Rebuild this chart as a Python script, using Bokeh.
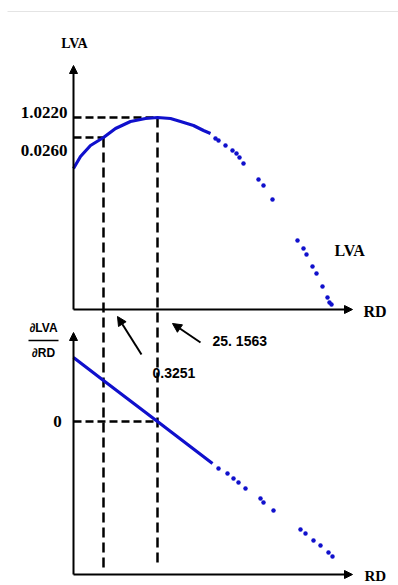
from bokeh.plotting import figure
from bokeh.models import Range1d, Arrow, NormalHead
from bokeh.core.properties import value
from bokeh.embed import file_html
from bokeh.resources import INLINE

# Top panel: LVA against RD
lva_line_rd = [0, 7, 17, 30, 42, 57, 72, 84, 97, 107, 120, 130, 137]
lva_line_val = [141, 153, 164, 172, 181, 188, 191, 192, 191, 188, 184, 179, 176]
lva_dots_rd = [142, 145, 152, 159, 163, 166, 170, 185, 190, 199, 224, 230, 233, 239, 243, 249, 254, 256, 258]
lva_dots_val = [171, 169, 164, 159, 156, 152, 146, 130, 124, 110, 69, 61, 55, 43, 36, 23, 12, 7, 5]

# Bottom panel: dLVA/dRD against RD
d_line_rd = [0, 30, 84, 139]
d_line_val = [64, 41, 0, -42]
d_dots_rd = [145, 154, 160, 165, 172, 187, 190, 200, 227, 232, 240, 247, 255, 259]
d_dots_val = [-47, -52, -57, -61, -67, -77, -81, -89, -108, -112, -119, -124, -131, -135]

# marked points
rd_marks = [30, 84]            # RD of the two vertical guides
lva_marks = [172, 192]         # LVA levels "0.0260" and "1.0220"
lva_mark_labels = ["0.0260", "1.0220"]
rd_mark_labels = ["0.3251", "25. 1563"]

# axis extents
top_axis_len_y = 244
axis_len_x = 279
bot_axis_top = 89
bot_axis_base = -153
guide_bottom = -258

# ---------------- layout ----------------
W, H = 398, 585
ORIGIN_FX, TOP_ORIGIN_FY, BOT_ZERO_FY = 73, 309, 421

p = figure(width=W, height=H, output_backend="svg", toolbar_location=None,
           x_range=Range1d(-ORIGIN_FX, W - ORIGIN_FX),
           y_range=Range1d(TOP_ORIGIN_FY - H, TOP_ORIGIN_FY),
           x_axis_type=None, y_axis_type=None, min_border=0)
p.extra_y_ranges = {"d": Range1d(BOT_ZERO_FY - H, BOT_ZERO_FY)}
p.outline_line_color = None
p.background_fill_color = "white"

BLUE = "#1010cc"
serif = value("Liberation Serif")
sans = value("Liberation Sans")

# faint page border line at top
p.line([-66, W - ORIGIN_FX], [TOP_ORIGIN_FY - 11, TOP_ORIGIN_FY - 11], line_color="#e4e4e4", line_width=1)

# dashed guides
p.segment(x0=[0, 0], y0=lva_marks, x1=rd_marks, y1=lva_marks,
          line_color="black", line_width=2.5, line_dash="8 4")
p.segment(x0=rd_marks, y0=lva_marks, x1=rd_marks, y1=[guide_bottom, guide_bottom],
          line_color="black", line_width=2.5, line_dash="10 5")
p.segment(x0=[0], y0=[0], x1=[rd_marks[1]], y1=[0], y_range_name="d",
          line_color="black", line_width=2.5, line_dash="8 4")

# axes with arrows
def axis_arrow(x0, y0, x1, y1, rn="default"):
    p.add_layout(Arrow(end=NormalHead(size=8, line_width=1, fill_color="black", line_color="black"),
                       x_start=x0, y_start=y0, x_end=x1, y_end=y1,
                       line_width=2, line_color="black", y_range_name=rn))

axis_arrow(0, 0, 0, top_axis_len_y)
axis_arrow(0, 0, axis_len_x, 0)
axis_arrow(0, bot_axis_base, 0, bot_axis_top, "d")
axis_arrow(0, bot_axis_base, axis_len_x, bot_axis_base, "d")

# pointer arrows
def pointer(x0, y0, x1, y1):
    p.add_layout(Arrow(end=NormalHead(size=9, line_width=1, fill_color="black", line_color="black"),
                       x_start=x0, y_start=y0, x_end=x1, y_end=y1,
                       line_width=2, line_color="black", y_range_name="d"))

pointer(68, 67, 44, 105)
pointer(127, 79, 99, 98)

# curves
p.line(lva_line_rd, lva_line_val, line_color=BLUE, line_width=3.2)
p.scatter(lva_dots_rd, lva_dots_val, size=4.5, color=BLUE, line_width=0)
p.line(d_line_rd, d_line_val, line_color=BLUE, line_width=3.2, y_range_name="d")
p.scatter(d_dots_rd, d_dots_val, size=4.5, color=BLUE, line_width=0, y_range_name="d")

# serif labels (top panel)
p.text(x=[-6, -6], y=[197, 159], text=lva_mark_labels[::-1], text_font=serif, text_font_style="bold",
       text_font_size="17px", text_align="right", text_baseline="middle", text_color="black")
p.text(x=[1], y=[266], text=["LVA"], text_font=serif, text_font_style="bold", text_font_size="14px",
       text_align="center", text_baseline="middle", text_color="black")
p.text(x=[290, 261], y=[-2, 59], text=["RD", "LVA"], text_font=serif,
       text_font_style="bold", text_font_size="16px", text_align="left", text_baseline="middle",
       text_color="black")

# bottom panel labels
p.text(x=[-16], y=[0], text=["0"], text_font=serif, text_font_style="bold", text_font_size="17px",
       text_align="center", text_baseline="middle", y_range_name="d")
p.text(x=[291], y=[-154], text=["RD"], text_font=serif, text_font_style="bold", text_font_size="15px",
       text_align="left", text_baseline="middle", y_range_name="d")
p.text(x=[-30, -30], y=[94, 69], text=["\u2202LVA", "\u2202RD"], text_font=sans, text_font_style="bold",
       text_font_size="12px", text_align="center", text_baseline="middle", y_range_name="d")
p.segment(x0=[-45], y0=[81], x1=[-15], y1=[81], line_color="black", line_width=1.5, y_range_name="d")
p.text(x=[79, 139], y=[49, 81], text=rd_mark_labels, text_font=sans, text_font_style="bold",
       text_font_size="14px", text_align="left", text_baseline="middle", y_range_name="d")

open("out.html", "w").write(file_html(p, INLINE))
